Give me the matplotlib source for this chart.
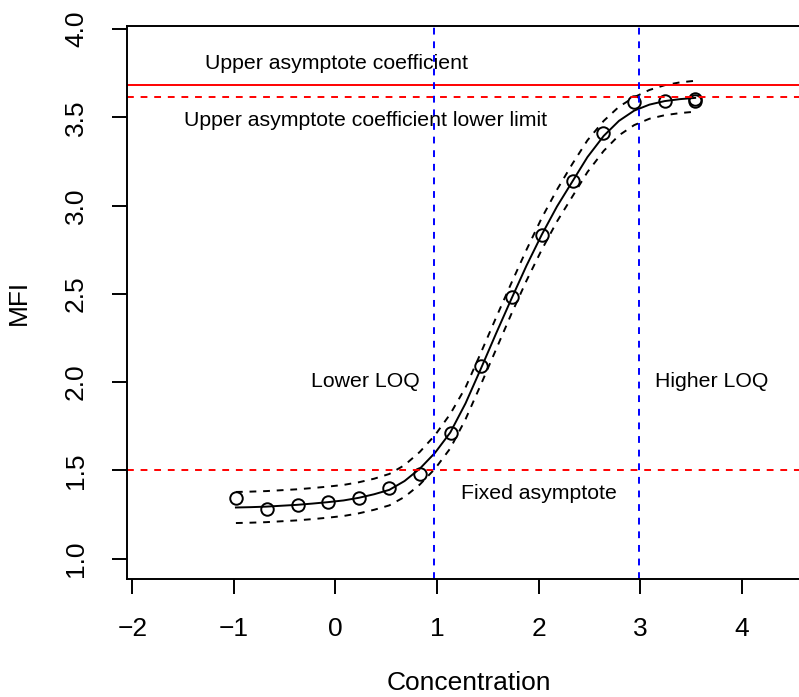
import matplotlib
matplotlib.use("Agg")
import matplotlib.pyplot as plt

plt.rcParams['font.family'] = ['Liberation Sans', 'DejaVu Sans']

# standard points (log concentration, MFI)
conc = [-0.975, -0.674, -0.373, -0.072, 0.229, 0.530, 0.831, 1.132, 1.433,
        1.734, 2.035, 2.336, 2.637, 2.938, 3.239, 3.540, 3.540]
mfi = [1.344, 1.281, 1.303, 1.323, 1.346, 1.398, 1.480, 1.711, 2.092,
       2.484, 2.832, 3.139, 3.409, 3.585, 3.594, 3.606, 3.594]

# fitted curve and confidence band
fit_x = [-0.98, -0.83, -0.68, -0.53, -0.38, -0.23, -0.08, 0.08, 0.23, 0.38,
         0.53, 0.68, 0.83, 0.98, 1.13, 1.28, 1.43, 1.58, 1.73, 1.88,
         2.03, 2.18, 2.33, 2.48, 2.64, 2.79, 2.94, 3.09, 3.24, 3.39, 3.54]
fit_y = [1.290, 1.292, 1.295, 1.300, 1.305, 1.312, 1.320, 1.330, 1.345, 1.365,
         1.390, 1.440, 1.510, 1.600, 1.715, 1.880, 2.075, 2.275, 2.470, 2.660,
         2.835, 2.995, 3.135, 3.275, 3.395, 3.480, 3.538, 3.572, 3.592, 3.603, 3.610]
fit_upper = [1.378, 1.380, 1.383, 1.388, 1.393, 1.400, 1.408, 1.418, 1.433, 1.453,
             1.480, 1.530, 1.605, 1.700, 1.820, 1.970, 2.165, 2.365, 2.560, 2.750,
             2.930, 3.090, 3.235, 3.370, 3.480, 3.560, 3.614, 3.655, 3.682, 3.698, 3.707]
fit_lower = [1.202, 1.204, 1.207, 1.212, 1.217, 1.224, 1.232, 1.242, 1.257, 1.277,
             1.302, 1.350, 1.420, 1.510, 1.625, 1.790, 1.985, 2.185, 2.385, 2.575,
             2.750, 2.910, 3.050, 3.190, 3.310, 3.398, 3.456, 3.492, 3.512, 3.524, 3.532]

# reference lines
upper_asym = 3.683
upper_asym_low = 3.613
fixed_asym = 1.5
loq_low = 0.97
loq_high = 2.99

fig = plt.figure(figsize=(7.99, 6.97), dpi=100)
ax = fig.add_axes([127 / 799, 118 / 697, 672 / 799, 553.3 / 697])

ax.plot(fit_x, fit_y, color='black', lw=1.4)
ax.plot(fit_x, fit_upper, color='black', lw=1.4, ls=(0, (3.5, 3.5)))
ax.plot(fit_x, fit_lower, color='black', lw=1.4, ls=(0, (3.5, 3.5)))
ax.plot(conc, mfi, 'o', ms=9, mfc='none', mec='black', mew=1.4)

ax.axhline(upper_asym, color='red', lw=1.4)
ax.axhline(upper_asym_low, color='red', lw=1.4, ls=(0, (3.5, 3.5)))
ax.axhline(fixed_asym, color='red', lw=1.4, ls=(0, (3.5, 3.5)))
ax.axvline(loq_low, color='blue', lw=1.4, ls=(0, (3.5, 3.5)))
ax.axvline(loq_high, color='blue', lw=1.4, ls=(0, (3.5, 3.5)))

fs = 15.3
ax.text(0.01, 3.773, 'Upper asymptote coefficient', ha='center', va='baseline', fontsize=fs)
ax.text(0.30, 3.452, 'Upper asymptote coefficient lower limit', ha='center', va='baseline', fontsize=fs)
ax.text(0.29, 1.975, 'Lower LOQ', ha='center', va='baseline', fontsize=fs)
ax.text(3.70, 1.975, 'Higher LOQ', ha='center', va='baseline', fontsize=fs)
ax.text(2.00, 1.339, 'Fixed asymptote', ha='center', va='baseline', fontsize=fs)

ax.set_xlim(-2.052, 4.562)
ax.set_ylim(0.885, 4.019)
ax.set_xticks([-2, -1, 0, 1, 2, 3, 4])
ax.set_yticks([1.0, 1.5, 2.0, 2.5, 3.0, 3.5, 4.0])
ax.set_yticklabels(['1.0', '1.5', '2.0', '2.5', '3.0', '3.5', '4.0'])

ax.spines['right'].set_visible(False)
for s in ['left', 'top', 'bottom']:
    ax.spines[s].set_linewidth(1.4)
ax.tick_params(direction='out', length=11, width=1.4, labelsize=19)
ax.tick_params(axis='x', pad=16)
ax.tick_params(axis='y', pad=17, labelrotation=90)
for lab in ax.get_yticklabels():
    lab.set_va('center')

ax.set_xlabel('Concentration', fontsize=19)
ax.set_ylabel('MFI', fontsize=19)
ax.xaxis.set_label_coords(0.509, -0.166)
ax.yaxis.set_label_coords(-0.143, 0.5)

fig.savefig('out.png', dpi=100)
